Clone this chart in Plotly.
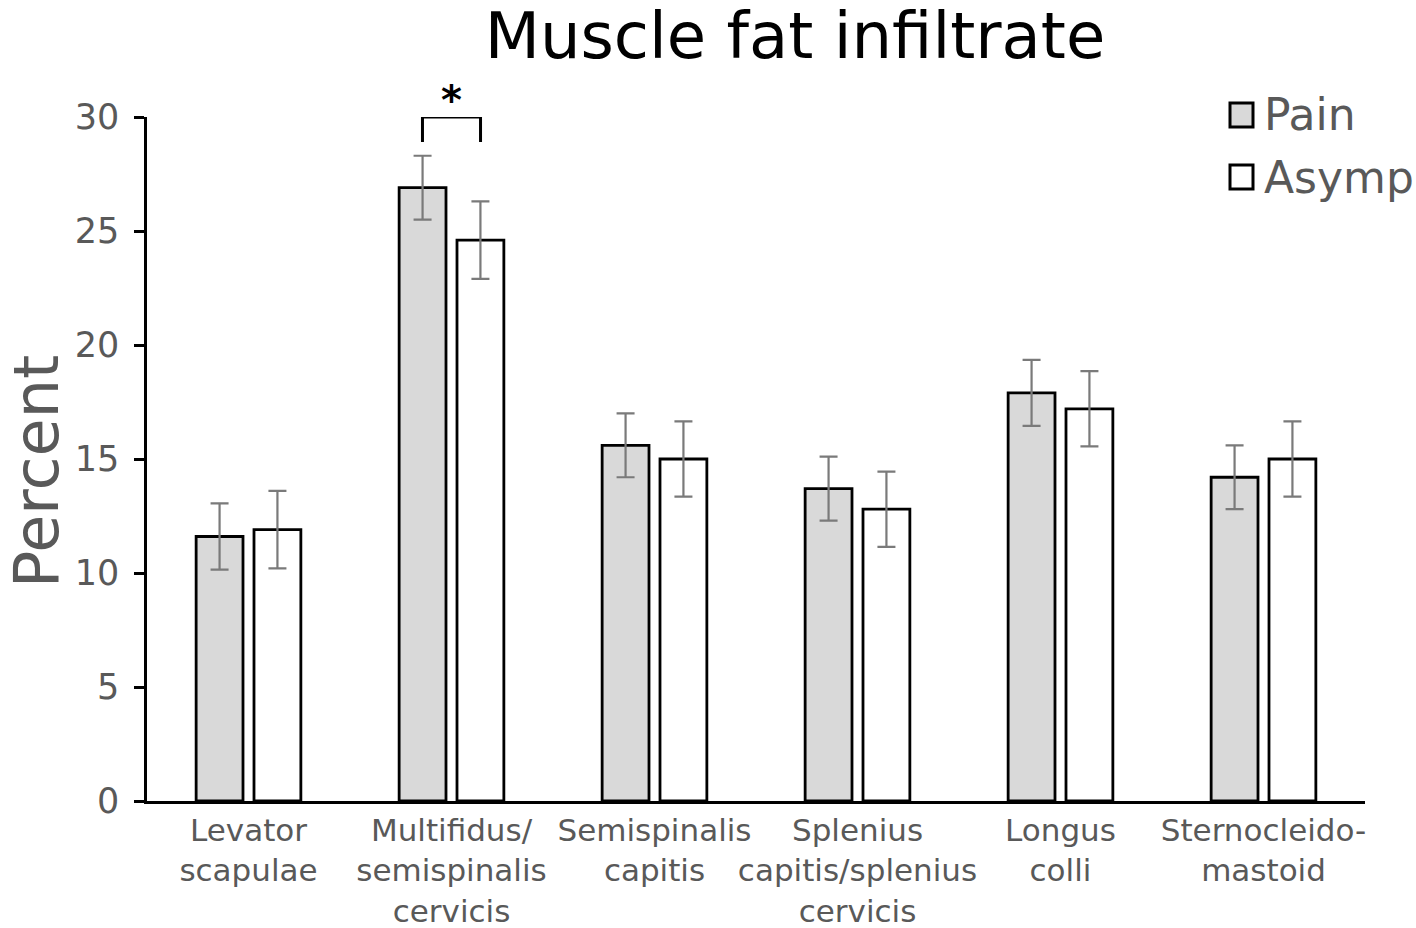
import plotly.graph_objects as go

categories = ["Levator<br>scapulae", "Multifidus/<br>semispinalis<br>cervicis", "Semispinalis<br>capitis",
              "Splenius<br>capitis/splenius<br>cervicis", "Longus<br>colli", "Sternocleido-<br>mastoid"]
pain = [11.6, 26.9, 15.6, 13.7, 17.9, 14.2]
pain_err = [1.45, 1.4, 1.4, 1.4, 1.45, 1.4]
asymp = [11.9, 24.6, 15.0, 12.8, 17.2, 15.0]
asymp_err = [1.7, 1.7, 1.65, 1.65, 1.65, 1.65]
series_names = ["Pain", "Asymp"]
colors = ["#d9d9d9", "#ffffff"]

FONT = "DejaVu Sans"
GREY = "#595959"

W, H = 1416, 928
L, R, T, B = 147, 51, 117, 127
pw, ph = W - L - R, H - T - B

def px(x):
    return (x - L) / pw

def py(y):
    return (H - B - y) / ph

fig = go.Figure()
for name, vals, errs, col in zip(series_names, [pain, asymp], [pain_err, asymp_err], colors):
    fig.add_trace(go.Bar(
        x=categories, y=vals, name=name,
        marker=dict(color=col, line=dict(color="black", width=2.8)),
        error_y=dict(type="data", array=errs, visible=True, color="#7a7a7a", thickness=2.2, width=9),
        showlegend=False,
    ))

# significance bracket for Multifidus (category index 1)
off = 0.143
fig.add_shape(type="path", xref="x", yref="y",
              path=f"M {1-off},28.9 L {1-off},30.0 L {1+off},30.0 L {1+off},28.9",
              line=dict(color="black", width=3))
fig.add_annotation(x=1, y=30.0, xref="x", yref="y", text="<b>*</b>", showarrow=False,
                   font=dict(family=FONT, size=40, color="black"), yanchor="bottom", yshift=-8)

# manual legend
leg_y = [115, 177]
for name, col, yy in zip(series_names, colors, leg_y):
    fig.add_shape(type="rect", xref="paper", yref="paper",
                  x0=px(1230), x1=px(1253), y0=py(yy + 12), y1=py(yy - 12),
                  fillcolor=col, line=dict(color="black", width=3))
    fig.add_annotation(xref="paper", yref="paper", x=px(1262), y=py(yy), text=name,
                       showarrow=False, xanchor="left", yanchor="middle",
                       font=dict(family=FONT, size=44, color=GREY))

# y-axis title
fig.add_annotation(xref="paper", yref="paper", x=px(36), y=py(472), text="Percent", textangle=-90,
                   showarrow=False, xanchor="center", yanchor="middle",
                   font=dict(family=FONT, size=62, color=GREY))

fig.update_layout(
    width=W, height=H,
    margin=dict(l=L, r=R, t=T, b=B, autoexpand=False),
    paper_bgcolor="white", plot_bgcolor="white",
    barmode="group", bargap=0.43, bargroupgap=0.19,
    title=dict(text="Muscle fat infiltrate", x=795 / W, xanchor="center", y=1 - 36 / H, yanchor="middle",
               font=dict(family=FONT, size=64, color="black")),
    font=dict(family=FONT, color=GREY),
)
fig.update_xaxes(showline=True, linecolor="black", linewidth=2.5, ticks="", showgrid=False,
                 automargin=False, tickangle=0, tickfont=dict(family=FONT, size=31, color=GREY))
fig.update_yaxes(range=[0, 30], tickvals=[0, 5, 10, 15, 20, 25, 30], showline=True, linecolor="black",
                 linewidth=2.5, ticks="outside", ticklen=10, tickwidth=2.5, tickcolor="black",
                 showgrid=False, zeroline=False, automargin=False, ticklabelstandoff=8,
                 tickfont=dict(family=FONT, size=35, color=GREY))

fig.write_html("out.html", config={"displayModeBar": False},
               post_script="document.body.style.margin='0px';")
